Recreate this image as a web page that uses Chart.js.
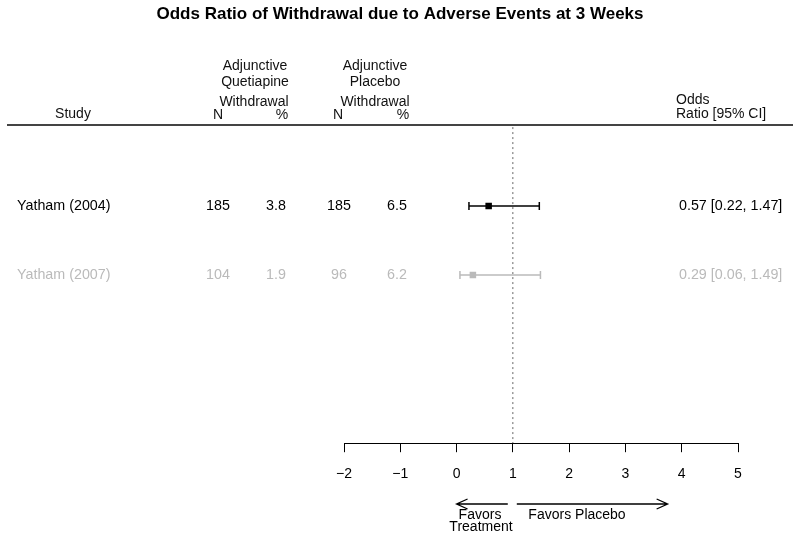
<!DOCTYPE html>
<html>
<head>
<meta charset="utf-8">
<script src="https://cdn.jsdelivr.net/npm/chart.js@4.4.0/dist/chart.umd.min.js"></script>
<style>
  html, body { margin: 0; padding: 0; background: #fff; }
  #wrap { width: 800px; height: 537px; position: relative; }
</style>
</head>
<body>
<div id="wrap"><canvas id="myChart"></canvas></div>
<script>
const studies = ['Yatham (2004)', 'Yatham (2007)'];
const quetN = [185, 104];
const quetPct = ['3.8', '1.9'];
const placN = [185, 96];
const placPct = ['6.5', '6.2'];
const oddsRatio = [0.57, 0.29];
const ciLow = [0.22, 0.06];
const ciHigh = [1.47, 1.49];
const xTicks = [-2, -1, 0, 1, 2, 3, 4, 5];
const rowColors = ['#000000', '#bababa'];

const FONT = '"Liberation Sans", Arial, Helvetica, sans-serif';
const Y_MIN = -0.174, Y_MAX = 4.435;

window.addEventListener("load", function(){
    const datasets = [];
    studies.forEach((s, i) => {
        const y = i + 1;
        datasets.push({
            label: s + ' OR',
            data: [{x: oddsRatio[i], y: y}],
            pointStyle: 'rect',
            pointRadius: 4.6,
            backgroundColor: rowColors[i],
            borderColor: rowColors[i],
            borderWidth: 0,
            showLine: false,
            order: 0
        });
        datasets.push({
            label: s + ' CI',
            data: [{x: ciLow[i], y: y}, {x: ciHigh[i], y: y}],
            showLine: true,
            borderColor: rowColors[i],
            borderWidth: 1.5,
            pointStyle: 'line',
            rotation: 90,
            pointRadius: 4,
            pointBorderWidth: 1.5,
            pointBorderColor: rowColors[i],
            order: 1
        });
    });
    datasets.push({
        label: 'ref',
        data: [{x: 1, y: Y_MIN + 0.03}, {x: 1, y: Y_MAX}],
        showLine: true,
        borderColor: '#666',
        borderWidth: 1,
        borderDash: [2, 3],
        pointRadius: 0,
        order: 2
    });

    const tablePlugin = {
        id: 'table',
        afterDraw(chart) {
            const ctx = chart.ctx;
            const xs = chart.scales.x, ys = chart.scales.y;
            const top = chart.chartArea.top;
            ctx.save();
            // title
            ctx.fillStyle = '#000';
            ctx.textBaseline = 'middle';
            ctx.textAlign = 'center';
            ctx.font = 'bold 17px ' + FONT;
            ctx.fillText('Odds Ratio of Withdrawal due to Adverse Events at 3 Weeks', 400, 14);

            // header rule
            ctx.strokeStyle = '#444';
            ctx.lineWidth = 2;
            ctx.beginPath();
            ctx.moveTo(7, top);
            ctx.lineTo(793, top);
            ctx.stroke();

            ctx.font = '14px ' + FONT;
            ctx.fillStyle = '#111';
            ctx.fillText('Study', 73, 114);
            ctx.fillText('Adjunctive', 255, 66);
            ctx.fillText('Quetiapine', 255, 82);
            ctx.fillText('Withdrawal', 254, 102);
            ctx.fillText('N', 218, 115);
            ctx.fillText('%', 282, 115);
            ctx.fillText('Adjunctive', 375, 66);
            ctx.fillText('Placebo', 375, 82);
            ctx.fillText('Withdrawal', 375, 102);
            ctx.fillText('N', 338, 115);
            ctx.fillText('%', 403, 115);
            ctx.textAlign = 'left';
            ctx.fillText('Odds', 676, 100);
            ctx.fillText('Ratio [95% CI]', 676, 114);

            // rows
            ctx.font = '14.3px ' + FONT;
            studies.forEach((s, i) => {
                const y = ys.getPixelForValue(i + 1);
                ctx.fillStyle = rowColors[i];
                ctx.textAlign = 'left';
                ctx.fillText(s, 17, y);
                ctx.textAlign = 'center';
                ctx.fillText(String(quetN[i]), 218, y);
                ctx.fillText(quetPct[i], 276, y);
                ctx.fillText(String(placN[i]), 339, y);
                ctx.fillText(placPct[i], 397, y);
                ctx.textAlign = 'left';
                ctx.fillText(oddsRatio[i].toFixed(2) + ' [' + ciLow[i].toFixed(2) + ', ' + ciHigh[i].toFixed(2) + ']', 679, y);
            });

            // favors arrows
            const ay = 504;
            const arrow = (x0, x1) => {
                const dir = Math.sign(x1 - x0);
                ctx.beginPath();
                ctx.moveTo(x0, ay);
                ctx.lineTo(x1, ay);
                ctx.moveTo(x1 - dir * 11, ay - 5);
                ctx.lineTo(x1, ay);
                ctx.lineTo(x1 - dir * 11, ay + 5);
                ctx.stroke();
            };
            ctx.strokeStyle = '#000';
            ctx.lineWidth = 1.3;
            arrow(xs.getPixelForValue(0.91), xs.getPixelForValue(0.0));
            arrow(xs.getPixelForValue(1.07), xs.getPixelForValue(3.75));
            ctx.font = '14px ' + FONT;
            ctx.fillStyle = '#000';
            ctx.textAlign = 'center';
            ctx.fillText('Favors', 480, 515);
            ctx.fillText('Treatment', 481, 527);
            ctx.fillText('Favors Placebo', 577, 515);
            ctx.restore();
        }
    };

    new Chart(document.getElementById('myChart'), {
        type: 'scatter',
        data: { datasets: datasets },
        options: {
            responsive: true,
            maintainAspectRatio: false,
            animation: false,
            events: [],
            layout: { padding: { left: 344, right: 62, top: 125, bottom: 40 } },
            plugins: {
                legend: { display: false },
                tooltip: { enabled: false },
                title: { display: false }
            },
            scales: {
                x: {
                    type: 'linear',
                    min: xTicks[0],
                    max: xTicks[xTicks.length - 1],
                    afterBuildTicks: axis => { axis.ticks = xTicks.map(v => ({ value: v })); },
                    ticks: {
                        color: '#000',
                        font: { family: FONT, size: 14 },
                        padding: 14,
                        maxRotation: 0,
                        callback: v => String(v).replace('-', '\u2212')
                    },
                    grid: { drawOnChartArea: false, drawTicks: true, tickLength: 9, color: '#000', lineWidth: 1 },
                    border: { display: true, color: '#000', width: 1 }
                },
                y: {
                    type: 'linear',
                    display: false,
                    reverse: true,
                    min: Y_MIN,
                    max: Y_MAX
                }
            }
        },
        plugins: [tablePlugin]
    });
});
</script>
</body>
</html>
